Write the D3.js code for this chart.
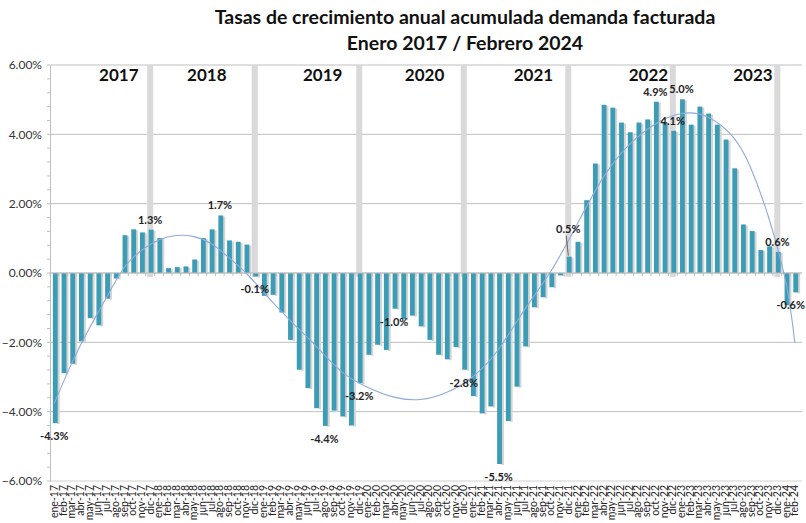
<!DOCTYPE html>
<html>
<head>
<meta charset="utf-8">
<script src="https://cdn.jsdelivr.net/npm/d3@7"></script>
<style>
  body { margin: 0; background: #fff; }
  text { font-family: Lato, "Open Sans", sans-serif; }
</style>
</head>
<body>
<div id="main"></div>
<script>
// month names and years used for the category labels
var monthNames = ["ene", "feb", "mar", "abr", "may", "jun", "jul", "ago", "sep", "oct", "nov", "dic"];
var years = [17, 18, 19, 20, 21, 22, 23, 24];

// cumulative annual growth rate (%), ene-17 .. feb-24
var values = [
	-4.33, -2.89, -2.62, -1.97, -1.30, -1.51, -0.74, -0.16, 1.09, 1.26, 1.17, 1.25,
	1.01, 0.14, 0.17, 0.19, 0.39, 1.01, 1.26, 1.66, 0.94, 0.90, 0.82, -0.10,
	-0.66, -0.63, -1.14, -1.93, -2.79, -3.32, -3.90, -4.41, -3.97, -4.14, -4.40, -3.18,
	-2.36, -2.07, -2.22, -1.03, -1.33, -1.23, -1.54, -1.93, -2.36, -2.49, -2.14, -2.79,
	-3.55, -4.05, -3.85, -5.51, -4.27, -3.28, -2.12, -0.99, -0.70, -0.41, -0.07, 0.47,
	0.90, 2.10, 3.16, 4.85, 4.77, 4.34, 4.06, 4.34, 4.43, 4.94, 4.34, 4.10,
	5.01, 4.28, 4.80, 4.60, 4.28, 3.85, 3.02, 1.40, 1.21, 0.66, 0.77, 0.61,
	-0.93, -0.56
];

// months that carry a data label
var labelled = [0, 11, 19, 23, 31, 35, 39, 47, 51, 59, 69, 71, 72, 83, 85];

// polynomial trend line (month index, value)
var trendIdx = [0, 2, 4, 6, 8, 10, 12, 14, 16, 18, 20, 22, 24, 27, 30, 33, 36, 39, 42, 45, 48, 51, 54, 57, 60, 63, 66, 69, 72, 75, 78, 80, 82, 84, 85];
var trendVal = [-3.76, -2.6, -1.6, -0.7, 0.15, 0.65, 0.95, 1.08, 1.05, 0.85, 0.45, 0.0, -0.55, -1.35, -2.1, -2.85, -3.3, -3.58, -3.65, -3.45, -3.0, -2.2, -1.05, 0.05, 1.4, 2.75, 3.7, 4.3, 4.6, 4.5, 3.9, 3.0, 1.6, -0.3, -2.0];

// year headings and the month they sit over
var yearLabels = ["2017", "2018", "2019", "2020", "2021", "2022", "2023"];
var yearLabelAt = [7.4, 17.5, 30.8, 42.5, 55, 68.2, 80.2];

var yTicks = [6, 4, 2, 0, -2, -4, -6];

var categories = [];
years.forEach(function(yr) {
	monthNames.forEach(function(m) {
		if (categories.length < values.length) categories.push(m + "-" + yr);
	});
});

var W = 806, H = 523;
var plotLeft = 50, plotRight = 802, plotTop = 65, plotBottom = 481;

var svg = d3.select("#main").append("svg")
	.attr("width", W)
	.attr("height", H);

var x = d3.scaleBand().domain(d3.range(values.length)).range([plotLeft, plotRight]).padding(0.33);
var step = x.step();
var xc = function(i) { return plotLeft + step * (i + 0.5); };
var y = d3.scaleLinear().domain([-6, 6]).range([plotBottom, plotTop]);

// title
svg.append("text").attr("x", 465).attr("y", 24).attr("text-anchor", "middle")
	.style("font-size", "19.5px").style("font-weight", "bold").attr("fill", "#111")
	.text("Tasas de crecimiento anual acumulada demanda facturada");
svg.append("text").attr("x", 465).attr("y", 50).attr("text-anchor", "middle")
	.style("font-size", "19.5px").style("font-weight", "bold").attr("fill", "#111")
	.text("Enero 2017 / Febrero 2024");

// gridlines
svg.append("g").selectAll("line").data(yTicks).join("line")
	.attr("x1", plotLeft).attr("x2", plotRight)
	.attr("y1", function(d) { return y(d); }).attr("y2", function(d) { return y(d); })
	.attr("stroke", function(d) { return d == -6 ? "#d0d0d0" : "#bfbfbf"; })
	.attr("stroke-width", 1);

// year separators (gray bands at each december)
var decs = d3.range(values.length).filter(function(i) { return i % 12 == 11; });
svg.append("g").selectAll("rect").data(decs).join("rect")
	.attr("x", function(i) { return xc(i) - 3; })
	.attr("y", y(6))
	.attr("width", 6)
	.attr("height", y(0) - y(6) + 4)
	.attr("fill", "#d9d9d9");

// y axis
var yAxis = d3.axisLeft(y).tickValues(yTicks).tickSize(0).tickPadding(8)
	.tickFormat(function(d) { return d3.format(".2f")(d) + "%"; });
var gy = svg.append("g").attr("transform", "translate(" + plotLeft + ",0)").call(yAxis);
gy.select(".domain").attr("stroke", "#bfbfbf");
gy.selectAll("text").style("font-size", "12px").style("font-family", "Lato, sans-serif").attr("fill", "#333");
// minor ticks
svg.append("g").selectAll("line").data(d3.range(-6, 6.01, 0.4)).join("line")
	.attr("x1", plotLeft - 3).attr("x2", plotLeft)
	.attr("y1", function(d) { return y(d); }).attr("y2", function(d) { return y(d); })
	.attr("stroke", "#bfbfbf");

// bars: side face then front face
var bars = svg.append("g");
bars.selectAll("rect.side").data(values).join("rect").attr("class", "side")
	.attr("x", function(d, i) { return x(i) + x.bandwidth() - 1.5; })
	.attr("y", function(d) { return Math.min(y(d), y(0)) + 1; })
	.attr("width", 2.5)
	.attr("height", function(d) { return Math.max(Math.abs(y(d) - y(0)), 1); })
	.attr("fill", "#d4d4d4");
bars.selectAll("rect.front").data(values).join("rect").attr("class", "front")
	.attr("x", function(d, i) { return x(i); })
	.attr("y", function(d) { return Math.min(y(d), y(0)); })
	.attr("width", x.bandwidth() - 1)
	.attr("height", function(d) { return Math.max(Math.abs(y(d) - y(0)), 1); })
	.attr("fill", "#3c9cb5");

// zero axis with category ticks
svg.append("line").attr("x1", plotLeft).attr("x2", plotRight).attr("y1", y(0)).attr("y2", y(0))
	.attr("stroke", "#bfbfbf");
svg.append("g").selectAll("line").data(d3.range(values.length + 1)).join("line")
	.attr("x1", function(i) { return plotLeft + step * i; })
	.attr("x2", function(i) { return plotLeft + step * i; })
	.attr("y1", y(0)).attr("y2", y(0) + 3)
	.attr("stroke", "#bfbfbf");

// trend line
var line = d3.line()
	.x(function(d, i) { return xc(trendIdx[i]); })
	.y(function(d) { return y(d); })
	.curve(d3.curveNatural);
svg.append("path").datum(trendVal).attr("d", line)
	.attr("fill", "none").attr("stroke", "#8faadc").attr("stroke-width", 1.1);

// year headings
svg.append("g").selectAll("text").data(yearLabels).join("text")
	.attr("x", function(d, i) { return xc(yearLabelAt[i]); })
	.attr("y", 81)
	.attr("text-anchor", "middle")
	.style("font-size", "17px").style("font-weight", "bold").attr("fill", "#111")
	.text(function(d) { return d; });

// data labels
var lift = { 59: 18 };
svg.append("g").selectAll("text").data(labelled).join("text")
	.attr("x", function(i) { return xc(i) + (i == 85 ? -4 : 0); })
	.attr("y", function(i) {
		var v = values[i];
		return v >= 0 ? y(v) - 6 - (lift[i] || 0) : y(v) + 17;
	})
	.attr("text-anchor", "middle")
	.style("font-size", "11px").style("font-weight", "bold").attr("fill", "#222")
	.text(function(i) { return values[i].toFixed(1) + "%"; });
// leader line for the lifted label
Object.keys(lift).forEach(function(k) {
	var i = +k;
	svg.append("line")
		.attr("x1", xc(i) - 2).attr("x2", xc(i))
		.attr("y1", y(values[i]) - lift[i] - 3).attr("y2", y(values[i]) - 1)
		.attr("stroke", "#444").attr("stroke-width", 0.8);
});

// category labels (rotated)
svg.append("g").selectAll("text").data(categories).join("text")
	.attr("transform", function(d, i) { return "translate(" + (xc(i) + 3.5) + "," + (plotBottom + 4) + ") rotate(-90)"; })
	.attr("text-anchor", "end")
	.style("font-size", "10.5px").style("font-family", "Lato, sans-serif").attr("fill", "#222")
	.text(function(d) { return d; });
</script>
</body>
</html>
